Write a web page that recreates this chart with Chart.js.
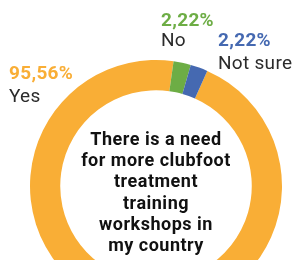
<!DOCTYPE html>
<html>
<head>
<meta charset="utf-8">
<script src="https://cdn.jsdelivr.net/npm/chart.js@4"></script>
<style>
    html, body { margin: 0; padding: 0; background: #ffffff; overflow: hidden; }
    #wrap { width: 292px; height: 330px; }
</style>
</head>
<body>
<div id="wrap"><canvas id="surveyChart" width="292" height="330"></canvas></div>
<script>
// Survey answers
const answers = ['Yes', 'No', 'Not sure'];
const shares = [95.56, 2.22, 2.22];
const shareLabels = ['95,56%', '2,22%', '2,22%'];
const centerLines = ['There is a need', 'for more clubfoot', 'treatment', 'training', 'workshops in', 'my country'];

const colors = {
    orange: '#F9AE36',
    green: '#6DAD45',
    blue: '#4569B1',
    label: '#2b2b2b',
    center: '#111111'
};
const sliceColors = [colors.orange, colors.green, colors.blue];

// where each answer's caption sits (manual callouts, like the original)
const captionPos = [
    { x: 9, y: 79, gap: 23 },
    { x: 161, y: 26, gap: 20 },
    { x: 218, y: 46, gap: 23 }
];

const captionPlugin = {
    id: 'captions',
    afterDraw(chart) {
        const ctx = chart.ctx;
        const arc = chart.getDatasetMeta(0).data[0];
        ctx.save();
        ctx.textAlign = 'left';
        ctx.textBaseline = 'alphabetic';
        ctx.letterSpacing = '0.3px';
        answers.forEach(function(name, i) {
            const p = captionPos[i];
            ctx.font = 'bold 19px Roboto';
            ctx.fillStyle = sliceColors[i];
            ctx.fillText(shareLabels[i], p.x, p.y);
            ctx.font = '19px Roboto';
            ctx.fillStyle = colors.label;
            ctx.fillText(name, p.x, p.y + p.gap);
        });

        // question in the hole
        ctx.textAlign = 'center';
        ctx.letterSpacing = '0.5px';
        ctx.font = 'bold 18px Roboto';
        ctx.fillStyle = colors.center;
        centerLines.forEach(function(line, i) {
            ctx.fillText(line, arc.x, arc.y - 41 + i * 21.2);
        });
        ctx.restore();
    }
};

new Chart(document.getElementById('surveyChart'), {
    type: 'doughnut',
    data: {
        labels: answers,
        datasets: [{
            data: shares,
            backgroundColor: sliceColors,
            borderWidth: 0
        }]
    },
    options: {
        responsive: false,
        animation: false,
        cutout: '76%',
        rotation: 24,
        layout: { padding: { left: 30, right: 10, top: 60, bottom: 18 } },
        plugins: {
            legend: { display: false },
            tooltip: { enabled: false }
        }
    },
    plugins: [captionPlugin]
});
</script>
</body>
</html>
